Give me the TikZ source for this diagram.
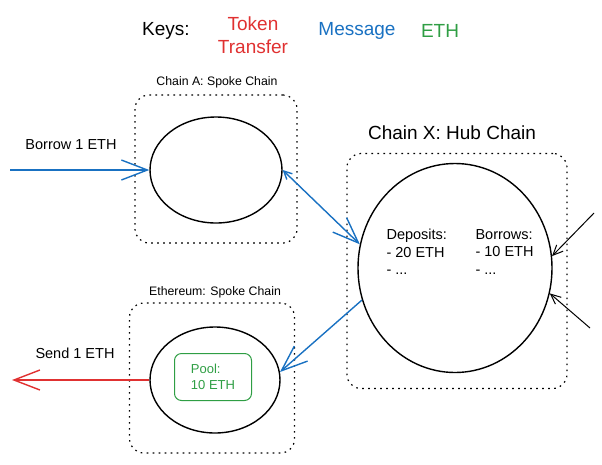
\documentclass[tikz,border=0pt]{standalone}
\usepackage{fontspec}
\setmainfont{Liberation Sans}
\usetikzlibrary{arrows.meta,shapes.geometric}
\definecolor{tokred}{HTML}{E03131}
\definecolor{msgblue}{HTML}{1971C2}
\definecolor{ethgreen}{HTML}{2F9E44}
\begin{document}
\begin{tikzpicture}[x=1pt,y=-1pt]
    \tikzset{chainnode/.style= {draw,
                                ellipse,
                                line width=1.4pt,
                                inner sep=0pt},
             zone/.style=      {draw,
                                rectangle,
                                rounded corners=14pt,
                                line width=1.2pt,
                                dash pattern=on 1.6pt off 4.4pt},
             keytext/.style=   {font=\fontsize{19}{23}\selectfont,
                                align=center},
             zonename/.style=  {font=\fontsize{12.3}{14}\selectfont},
             plain/.style=     {font=\fontsize{14.5}{17.5}\selectfont,
                                align=left},
             bigbarb/.style=   {line width=1.4pt,
                                -{Straight Barb[length=26pt,width=20pt]}},
             smallbarb/.style= {line width=1pt,
                                -{Straight Barb[length=10pt,width=9pt]}},
            }
    \useasboundingbox (0,0) rectangle (602,464);
    \path
    (166,31)   node[keytext] (k) {Keys:}
    (253,35)   node[keytext,text=tokred] (kt) {Token\\Transfer}
    (357,31)   node[keytext,text=msgblue] (km) {Message}
    (440,31)   node[keytext,text=ethgreen] (ke) {ETH}
    (216,169)  node[zone,minimum width=162pt,minimum height=148pt] (za) {}
    (217,82)   node[zonename] (na) {Chain A: Spoke Chain}
    (216,170)  node[chainnode,minimum width=132pt,minimum height=106pt] (a) {}
    (71,145)   node[plain] (tb) {Borrow 1 ETH}
    (457,271)  node[zone,minimum width=220pt,minimum height=235pt] (zx) {}
    (452,133)  node[keytext] (nx) {Chain X: Hub Chain}
    (455,268)  node[chainnode,minimum width=194pt,minimum height=209pt] (x) {}
    (383,252)  node[plain,anchor=west] (dep) {Deposits:\\- 20 ETH\\- ...}
    (472,252)  node[plain,anchor=west] (bor) {Borrows:\\- 10 ETH\\- ...}
    (212,378)  node[zone,minimum width=165pt,minimum height=150pt] (ze) {}
    (215,292)  node[zonename] (ne) {Ethereum: Spoke Chain}
    (215,380)  node[chainnode,minimum width=130pt,minimum height=106pt] (e) {}
    (213,377)  node[draw=ethgreen,text=ethgreen,line width=1pt,rounded corners=7pt,
                    minimum width=77pt,minimum height=47pt,align=left,
                    font=\fontsize{13}{15.5}\selectfont] (pool) {Pool:\\10 ETH}
    (75,353)   node[plain] (ts) {Send 1 ETH}
    ;
    \coordinate (in)  at (10,170);
    \coordinate (out) at (12,380);
    \coordinate (r1)  at (594,213);
    \coordinate (r2)  at (590,328);
    \draw[bigbarb,msgblue]  (in) -- (a.west);
    \draw[msgblue,line width=1.4pt,{Straight Barb[length=8pt,width=8pt]}-{Straight Barb[length=26pt,width=20pt]}]
          (a.east) -- (x.166);
    \draw[bigbarb,msgblue]  (x.199) -- (e.7);
    \draw[bigbarb,tokred]   (e.west) -- (out);
    \draw[smallbarb]        (r1) -- (x.7);
    \draw[smallbarb]        (r2) -- (x.345);
\end{tikzpicture}
\end{document}
